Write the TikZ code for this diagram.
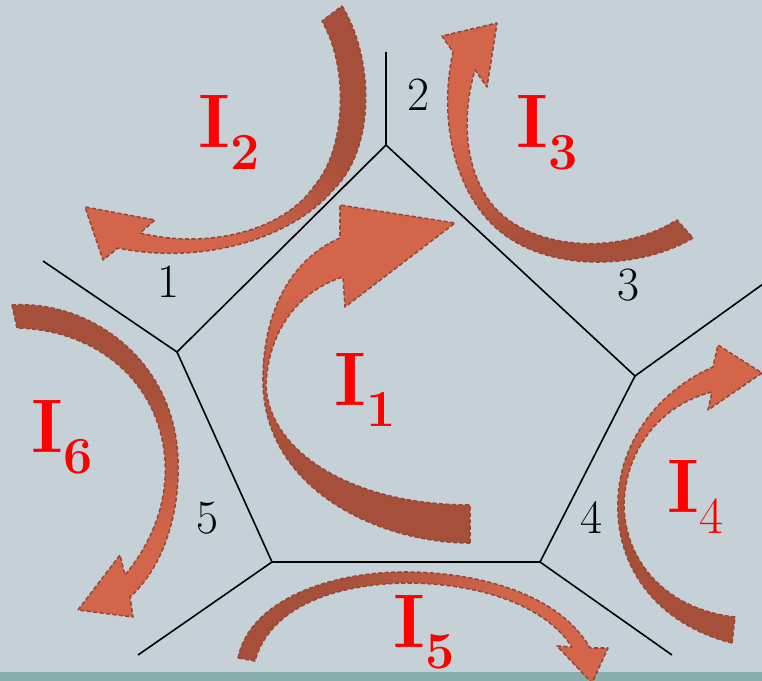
\documentclass[tikz,border=0pt]{standalone}
\usepackage{tikz}
\definecolor{bgblue}{RGB}{197,209,215}
\definecolor{stripteal}{RGB}{138,173,173}
\definecolor{arrdark}{RGB}{166,79,58}
\definecolor{arrlight}{RGB}{211,101,75}
\definecolor{arredge}{RGB}{154,72,54}
\pgfdeclareverticalshading{ribbon}{100bp}{color(0bp)=(arrdark); color(38bp)=(arrdark); color(62bp)=(arrlight); color(100bp)=(arrlight)}
\newcommand{\curlabel}[1]{\fontsize{54}{54}\selectfont\bfseries I\raisebox{-15pt}{\fontsize{37}{37}\selectfont #1}}

\begin{document}
\begin{tikzpicture}[x=0.025cm,y=-0.025cm,
  wall/.style={line width=1.15pt},
  flow/.style={shading=ribbon,draw=arredge,line width=1.1pt,dash pattern=on 3pt off 1.6pt,line join=round},
  cur/.style={text=red,inner sep=0pt,anchor=base west},
  num/.style={font=\fontsize{34}{34}\selectfont,inner sep=0pt}]
\useasboundingbox (0,0) rectangle (762,681);
\clip (0,0) rectangle (762,681);
\fill[bgblue] (0,0) rectangle (762,681);
\fill[stripteal] (0,672) rectangle (762,681);
% cell walls
\coordinate (vt)  at (386,145);
\coordinate (vl)  at (177,352);
\coordinate (vbl) at (272,562);
\coordinate (vbr) at (540,562);
\coordinate (vr)  at (635,376);
\coordinate (ot)  at (386,52);
\coordinate (ol)  at (43,261);
\coordinate (obl) at (138,655);
\coordinate (obr) at (672,655);
\coordinate (or)  at (770,279);
\draw[wall] (vt) -- (vl) -- (vbl) -- (vbr) -- (vr) -- cycle;
\draw[wall] (vt) -- (ot) (vl) -- (ol) (vbl) -- (obl) (vbr) -- (obr) (vr) -- (or);
% loop currents
\shadedraw[flow,shading angle=0] (470,543) .. controls (380,543) and (263,490) .. (263,380)
  .. controls (263,300) and (300,255) .. (340,238) -- (340,205) -- (455,223) -- (345,307) -- (343,277)
  .. controls (300,290) and (268,330) .. (266,385) .. controls (268,450) and (350,505) .. (470,505) -- cycle;
\shadedraw[flow,shading angle=135] (342,6) .. controls (375,60) and (375,150) .. (333,190)
  .. controls (290,240) and (200,265) .. (118,248) -- (103,260) -- (85,207) -- (155,220) -- (140,233)
  .. controls (210,250) and (285,230) .. (315,185) .. controls (345,150) and (350,70) .. (322,21) -- cycle;
\shadedraw[flow,shading angle=30] (693,238) .. controls (640,270) and (540,275) .. (490,222)
  .. controls (450,180) and (440,110) .. (453,52) -- (442,36) -- (497,23) -- (487,87) -- (475,70)
  .. controls (460,120) and (465,180) .. (500,213) .. controls (540,250) and (620,255) .. (677,220) -- cycle;
\shadedraw[flow,shading angle=-20] (732,643) .. controls (660,625) and (615,570) .. (618,500)
  .. controls (620,440) and (660,390) .. (713,367) -- (718,345) -- (762,373) -- (708,410) -- (712,392)
  .. controls (660,405) and (625,450) .. (624,505) .. controls (625,565) and (670,610) .. (735,617) -- cycle;
\shadedraw[flow,shading angle=-90] (238,658) .. controls (250,600) and (330,572) .. (405,572)
  .. controls (480,572) and (560,595) .. (590,648) -- (608,648) -- (592,683) -- (557,646) -- (572,647)
  .. controls (545,605) and (480,584) .. (410,583) .. controls (340,583) and (270,605) .. (255,661) -- cycle;
\shadedraw[flow,shading angle=180] (12,305) .. controls (90,300) and (175,360) .. (178,460)
  .. controls (180,520) and (160,570) .. (130,597) -- (133,617) -- (78,610) -- (120,555) -- (125,575)
  .. controls (150,545) and (168,505) .. (165,460) .. controls (160,385) and (100,330) .. (17,328) -- cycle;
% labels
\node[cur] (i1) at (334,405) {\curlabel{1}};
\node[cur] (i2) at (198,148) {\curlabel{2}};
\node[cur] (i3) at (516,148) {\curlabel{3}};
\node[cur] (i4) at (667,512) {\curlabel{\mdseries 4}};
\node[cur] (i5) at (393,647) {\curlabel{5}};
\node[cur] (i6) at (31,452) {\curlabel{6}};
\node[num] (n1) at (168,282) {1};
\node[num] (n2) at (418,95) {2};
\node[num] (n3) at (628,285) {3};
\node[num] (n4) at (591,518) {4};
\node[num] (n5) at (207,518) {5};
\end{tikzpicture}
\end{document}
